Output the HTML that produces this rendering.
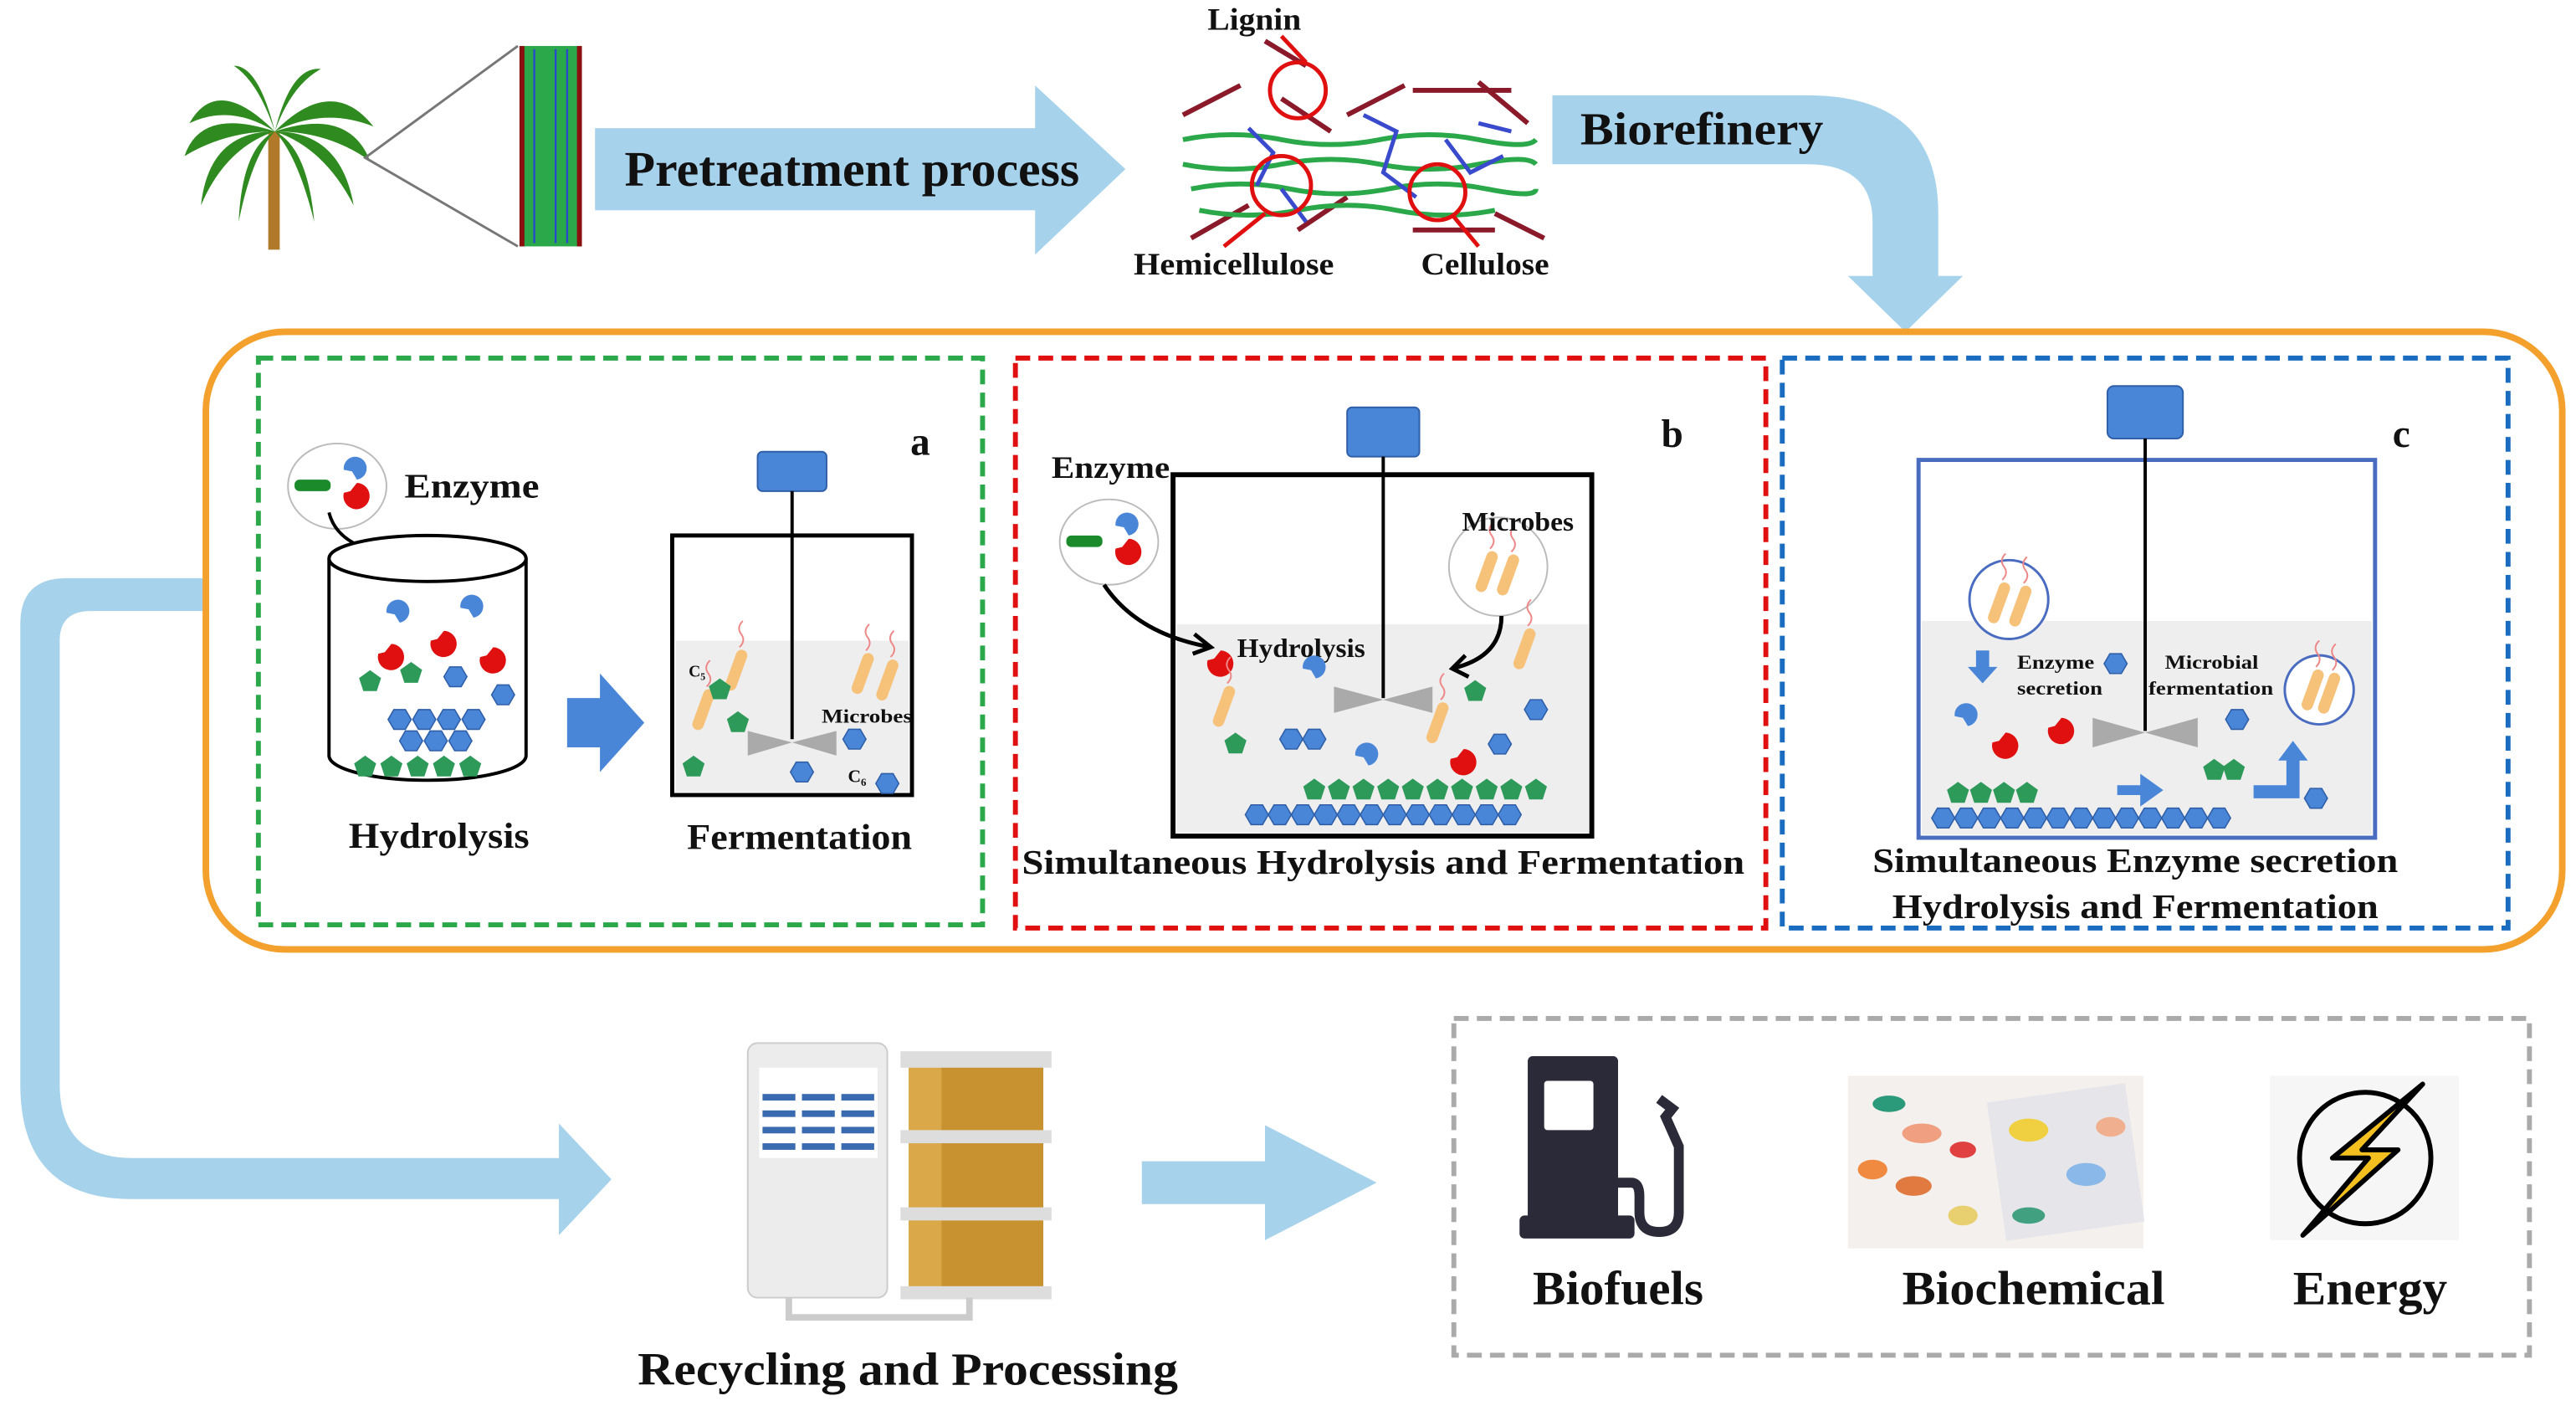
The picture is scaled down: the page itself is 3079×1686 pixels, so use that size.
<!DOCTYPE html>
<html><head><meta charset="utf-8"><style>
html,body{margin:0;padding:0;background:#fff;}
svg{display:block;}
text{font-family:"Liberation Serif",serif;font-weight:bold;fill:#111;}
</style></head><body>
<svg width="3079" height="1686" viewBox="0 0 1568 859" xmlns="http://www.w3.org/2000/svg">
<defs>
<polygon id="hx" points="7,0 3.5,6 -3.5,6 -7,0 -3.5,-6 3.5,-6" fill="#4a86d8" stroke="#2f5fa8" stroke-width="0.8"/>
<polygon id="pg" points="0,-7 6.7,-2.2 4.1,5.7 -4.1,5.7 -6.7,-2.2" fill="#2e9a5a"/>
<g id="mic"><rect x="-3.5" y="-13" width="7" height="26" rx="3.5" fill="#f6c27a" transform="rotate(20)"/><path d="M2,-14 q4,-4 1,-8 q-3,-4 1,-8" stroke="#e88" fill="none" stroke-width="1"/></g>
<path id="redE" d="M0,0 a8,8 0 1 0 8,-6 l-4,5 z" fill="#e01010"/>
<path id="bluE" d="M0,0 a7,7 0 1 1 8,6 l-3,-5 z" fill="#4a86d8"/>
<g id="enz"><ellipse cx="0" cy="0" rx="30" ry="26" fill="#fff" stroke="#bbb"/><rect x="-26" y="-4" width="22" height="7" rx="3" fill="#1a8a2a"/><use href="#bluE" x="4" y="-10"/><use href="#redE" x="4" y="4"/></g>
</defs>

<!-- palm tree -->
<rect x="163" y="80" width="7" height="72" fill="#b07a2a"/>
<g fill="#2f8a1f">
<path d="M167,80 q-35,-35 -52,-5 q25,-12 52,5z"/>
<path d="M167,80 q35,-35 60,-3 q-30,-12 -60,3z"/>
<path d="M167,80 q-10,-40 -25,-40 q15,10 25,40z"/>
<path d="M167,80 q10,-40 28,-38 q-18,10 -28,38z"/>
<path d="M167,80 q-40,0 -45,45 q15,-35 45,-45z"/>
<path d="M167,80 q40,0 48,45 q-18,-35 -48,-45z"/>
<path d="M167,80 q-20,10 -22,55 q8,-40 22,-55z"/>
<path d="M167,80 q20,10 24,55 q-10,-40 -24,-55z"/>
<path d="M167,80 q-45,-15 -55,15 q25,-15 55,-15z"/>
<path d="M167,80 q45,-15 58,18 q-25,-18 -58,-18z"/>
</g>
<path d="M315,28 L222,96 L315,150" fill="none" stroke="#777" stroke-width="1.5"/>
<rect x="316" y="28" width="38" height="122" fill="#2aa84a"/>
<rect x="316" y="28" width="3" height="122" fill="#8a1010"/><rect x="351" y="28" width="3" height="122" fill="#8a1010"/>
<path d="M325,30 v118 M338,30 v118 M345,30 v118" stroke="#2a4acc" stroke-width="1.2"/>

<!-- pretreatment arrow -->
<path d="M362,78 H630 V52 L685,103 L630,155 V128 H362 Z" fill="#a6d2ec"/>
<text x="380" y="113" font-size="30" textLength="277" lengthAdjust="spacingAndGlyphs">Pretreatment process</text>

<!-- lignocellulose -->
<g stroke-width="3" fill="none">
<path d="M720,70 l35,-18 M780,60 l30,20 M820,70 l35,-18 M860,55 l60,0 M900,50 l30,25 M725,145 l35,-20 M790,140 l30,-20 M860,140 l50,0 M910,130 l30,15 M770,25 l25,15" stroke="#8a1a2a"/>
<path d="M720,85 q30,-6 60,0 t60,0 t60,0 t35,0 M720,100 q30,6 60,0 t60,0 t60,0 t35,0 M725,115 q30,-6 60,0 t60,0 t60,0 t30,0 M730,128 q30,6 60,0 t60,0 t60,0" stroke="#2aa84a"/>
<path d="M760,78 l15,15 l-10,20 M830,70 l20,10 l-8,25 l20,15 M880,85 l15,20 l20,-10 M780,115 l15,20 M900,75 l20,5" stroke="#3a4acc" stroke-width="2.5"/>
</g>
<g fill="none" stroke="#e01010" stroke-width="2.5">
<circle cx="790" cy="55" r="17"/><circle cx="780" cy="113" r="18"/><circle cx="875" cy="117" r="17"/>
<path d="M795,38 L780,22 M770,130 L745,150 M885,132 L900,150"/>
</g>
<text x="735" y="18" font-size="19" textLength="57" lengthAdjust="spacingAndGlyphs">Lignin</text>
<text x="690" y="167" font-size="19" textLength="122" lengthAdjust="spacingAndGlyphs">Hemicellulose</text>
<text x="865" y="167" font-size="19" textLength="78" lengthAdjust="spacingAndGlyphs">Cellulose</text>

<!-- biorefinery arrow -->
<path d="M945,58 H1100 Q1180,58 1180,130 V168 H1195 L1160,202 L1125,168 H1140 V135 Q1140,100 1100,100 H945 Z" fill="#a6d2ec"/>
<text x="962" y="88" font-size="28" textLength="148" lengthAdjust="spacingAndGlyphs">Biorefinery</text>

<!-- left loop arrow -->
<path d="M125,352 H40 Q12,352 12,380 V660 Q12,730 80,730 H340 V752 L372,718 L340,684 V705 H80 Q36,705 36,660 V390 Q36,372 55,372 H125 Z" fill="#a6d2ec"/>

<!-- orange container -->
<rect x="125" y="202" width="1435" height="376" rx="48" fill="#fff" stroke="#f4a02c" stroke-width="4"/>
<rect x="157" y="218" width="441" height="345" fill="none" stroke="#2aa84a" stroke-width="3" stroke-dasharray="9,5"/>
<rect x="618" y="218" width="457" height="347" fill="none" stroke="#e01010" stroke-width="3" stroke-dasharray="9,5"/>
<rect x="1085" y="218" width="442" height="347" fill="none" stroke="#1a6cc0" stroke-width="3" stroke-dasharray="9,5"/>

<!-- panel a -->
<use href="#enz" x="205" y="296"/>
<text x="246" y="303" font-size="21" textLength="82" lengthAdjust="spacingAndGlyphs">Enzyme</text>
<path d="M200,312 q5,20 35,25" stroke="#000" stroke-width="2" fill="none"/><path d="M228,330 l8,7 l-10,3" stroke="#000" stroke-width="2" fill="none"/>
<path d="M200,340 V460 A60,15 0 0 0 320,460 V340" fill="#fff" stroke="#000" stroke-width="2"/>
<ellipse cx="260" cy="340" rx="60" ry="14" fill="#fff" stroke="#000" stroke-width="2"/>
<use href="#bluE" x="235" y="373"/><use href="#bluE" x="280" y="370"/><use href="#redE" x="230" y="398"/><use href="#redE" x="262" y="390"/><use href="#redE" x="292" y="400"/>
<use href="#pg" x="225" y="415"/><use href="#pg" x="250" y="410"/><use href="#hx" x="277" y="412"/><use href="#hx" x="306" y="423"/>
<g><use href="#hx" x="243" y="438"/><use href="#hx" x="258" y="438"/><use href="#hx" x="273" y="438"/><use href="#hx" x="288" y="438"/><use href="#hx" x="250" y="451"/><use href="#hx" x="265" y="451"/><use href="#hx" x="280" y="451"/></g>
<g><use href="#pg" x="222" y="467"/><use href="#pg" x="238" y="467"/><use href="#pg" x="254" y="467"/><use href="#pg" x="270" y="467"/><use href="#pg" x="286" y="467"/></g>
<text x="212" y="516" font-size="22" textLength="110" lengthAdjust="spacingAndGlyphs">Hydrolysis</text>
<path d="M345,425 H365 V410 L392,440 L365,470 V455 H345 Z" fill="#4a86d8"/>
<rect x="409" y="326" width="146" height="158" fill="#fff" stroke="#000" stroke-width="2.5"/>
<rect x="411" y="390" width="142" height="92" fill="#eeeeee"/>
<rect x="461" y="275" width="42" height="24" rx="3" fill="#4a86d8" stroke="#2f5fa8"/>
<line x1="482" y1="299" x2="482" y2="450" stroke="#000" stroke-width="2"/>
<path d="M455,445 L482,452 L455,460Z M509,445 L482,452 L509,460Z" fill="#aaa"/>
<use href="#mic" x="448" y="408"/><use href="#mic" x="428" y="432"/><use href="#mic" x="525" y="410"/><use href="#mic" x="540" y="414"/>
<use href="#pg" x="438" y="420"/><use href="#pg" x="449" y="440"/><use href="#pg" x="422" y="467"/><use href="#hx" x="520" y="450"/><use href="#hx" x="488" y="470"/><use href="#hx" x="540" y="477"/>
<text x="419" y="412" font-size="10">C₅</text><text x="500" y="440" font-size="12" textLength="55" lengthAdjust="spacingAndGlyphs">Microbes</text><text x="516" y="476" font-size="11">C₆</text>
<text x="554" y="277" font-size="24">a</text>
<text x="418" y="517" font-size="22" textLength="137" lengthAdjust="spacingAndGlyphs">Fermentation</text>

<!-- panel b -->
<rect x="714" y="289" width="255" height="220" fill="#fff" stroke="#000" stroke-width="3"/>
<rect x="716" y="380" width="251" height="127" fill="#eeeeee"/>
<rect x="820" y="248" width="44" height="30" rx="3" fill="#4a86d8" stroke="#2f5fa8"/>
<line x1="842" y1="278" x2="842" y2="425" stroke="#000" stroke-width="2"/>
<path d="M812,418 L842,426 L812,434Z M872,418 L842,426 L872,434Z" fill="#aaa"/>
<use href="#enz" x="675" y="330"/>
<text x="640" y="291" font-size="19" textLength="72" lengthAdjust="spacingAndGlyphs">Enzyme</text>
<path d="M672,356 q20,30 65,38" stroke="#000" stroke-width="2.5" fill="none"/><path d="M727,386 l10,8 l-11,4" stroke="#000" stroke-width="2.5" fill="none"/>
<circle cx="912" cy="345" r="30" fill="#fff" stroke="#bbb"/><use href="#mic" x="905" y="348"/><use href="#mic" x="918" y="350"/>
<text x="890" y="323" font-size="16" textLength="68" lengthAdjust="spacingAndGlyphs">Microbes</text>
<path d="M914,375 q0,25 -30,32" stroke="#000" stroke-width="2.5" fill="none"/><path d="M892,399 l-8,8 l10,5" stroke="#000" stroke-width="2.5" fill="none"/>
<text x="753" y="400" font-size="16" textLength="78" lengthAdjust="spacingAndGlyphs">Hydrolysis</text>
<use href="#redE" x="735" y="402"/><use href="#bluE" x="793" y="407"/><use href="#mic" x="745" y="430"/><use href="#mic" x="875" y="440"/><use href="#mic" x="928" y="395"/>
<use href="#pg" x="752" y="453"/><use href="#pg" x="898" y="421"/><use href="#hx" x="786" y="450"/><use href="#hx" x="800" y="450"/><use href="#hx" x="935" y="432"/><use href="#hx" x="913" y="453"/>
<use href="#bluE" x="825" y="460"/><use href="#redE" x="883" y="462"/>
<g><use href="#pg" x="800" y="481"/><use href="#pg" x="815" y="481"/><use href="#pg" x="830" y="481"/><use href="#pg" x="845" y="481"/><use href="#pg" x="860" y="481"/><use href="#pg" x="875" y="481"/><use href="#pg" x="890" y="481"/><use href="#pg" x="905" y="481"/><use href="#pg" x="920" y="481"/><use href="#pg" x="935" y="481"/></g>
<g><use href="#hx" x="765" y="496"/><use href="#hx" x="779" y="496"/><use href="#hx" x="793" y="496"/><use href="#hx" x="807" y="496"/><use href="#hx" x="821" y="496"/><use href="#hx" x="835" y="496"/><use href="#hx" x="849" y="496"/><use href="#hx" x="863" y="496"/><use href="#hx" x="877" y="496"/><use href="#hx" x="891" y="496"/><use href="#hx" x="905" y="496"/><use href="#hx" x="919" y="496"/></g>
<text x="1018" y="272" font-size="24" text-anchor="middle">b</text>
<text x="622" y="532" font-size="21" textLength="440" lengthAdjust="spacingAndGlyphs">Simultaneous Hydrolysis and Fermentation</text>

<!-- panel c -->
<rect x="1168" y="280" width="278" height="230" fill="#fff" stroke="#4a6cc0" stroke-width="2.5"/>
<rect x="1170" y="378" width="274" height="130" fill="#eeeeee"/>
<rect x="1283" y="235" width="46" height="32" rx="4" fill="#4a86d8" stroke="#2f5fa8"/>
<line x1="1306" y1="267" x2="1306" y2="445" stroke="#000" stroke-width="2"/>
<path d="M1274,437 L1306,446 L1274,455Z M1338,437 L1306,446 L1338,455Z" fill="#aaa"/>
<circle cx="1223" cy="365" r="24" fill="#fff" stroke="#4a6cc0" stroke-width="1.5"/><use href="#mic" x="1217" y="367"/><use href="#mic" x="1230" y="369"/>
<circle cx="1412" cy="420" r="21" fill="#fff" stroke="#4a6cc0" stroke-width="1.5"/><use href="#mic" x="1408" y="420"/><use href="#mic" x="1418" y="422"/>
<path d="M1203,396 h8 v10 h5 l-9,10 l-9,-10 h5z" fill="#4a86d8"/>
<text x="1228" y="407" font-size="12" textLength="47" lengthAdjust="spacingAndGlyphs">Enzyme</text><text x="1228" y="423" font-size="12" textLength="52" lengthAdjust="spacingAndGlyphs">secretion</text>
<text x="1318" y="407" font-size="12" textLength="57" lengthAdjust="spacingAndGlyphs">Microbial</text><text x="1308" y="423" font-size="12" textLength="76" lengthAdjust="spacingAndGlyphs">fermentation</text>
<use href="#hx" x="1288" y="404"/><use href="#hx" x="1362" y="438"/><use href="#hx" x="1410" y="486"/>
<use href="#bluE" x="1190" y="436"/><use href="#redE" x="1213" y="452"/><use href="#redE" x="1247" y="443"/>
<path d="M1289,478 h14 v-7 l14,10 l-14,10 v-7 h-14z" fill="#4a86d8"/>
<path d="M1372,478 h20 v-15 h-5 l9,-12 l9,12 h-5 v23 h-28z" fill="#4a86d8"/>
<use href="#pg" x="1348" y="469"/><use href="#pg" x="1360" y="469"/>
<g><use href="#pg" x="1192" y="483"/><use href="#pg" x="1206" y="483"/><use href="#pg" x="1220" y="483"/><use href="#pg" x="1234" y="483"/></g>
<g><use href="#hx" x="1183" y="498"/><use href="#hx" x="1197" y="498"/><use href="#hx" x="1211" y="498"/><use href="#hx" x="1225" y="498"/><use href="#hx" x="1239" y="498"/><use href="#hx" x="1253" y="498"/><use href="#hx" x="1267" y="498"/><use href="#hx" x="1281" y="498"/><use href="#hx" x="1295" y="498"/><use href="#hx" x="1309" y="498"/><use href="#hx" x="1323" y="498"/><use href="#hx" x="1337" y="498"/><use href="#hx" x="1351" y="498"/></g>
<text x="1462" y="272" font-size="24" text-anchor="middle">c</text>
<text x="1140" y="531" font-size="21" textLength="320" lengthAdjust="spacingAndGlyphs">Simultaneous Enzyme secretion</text>
<text x="1152" y="559" font-size="21" textLength="296" lengthAdjust="spacingAndGlyphs">Hydrolysis and Fermentation</text>

<!-- recycling building -->
<rect x="455" y="635" width="85" height="155" rx="6" fill="#ececec" stroke="#ccc"/>
<rect x="462" y="650" width="72" height="55" fill="#fff"/>
<g fill="#3a6ab0">
<rect x="464" y="666" width="20" height="4"/><rect x="488" y="666" width="20" height="4"/><rect x="512" y="666" width="20" height="4"/>
<rect x="464" y="676" width="20" height="4"/><rect x="488" y="676" width="20" height="4"/><rect x="512" y="676" width="20" height="4"/>
<rect x="464" y="686" width="20" height="4"/><rect x="488" y="686" width="20" height="4"/><rect x="512" y="686" width="20" height="4"/>
<rect x="464" y="696" width="20" height="4"/><rect x="488" y="696" width="20" height="4"/><rect x="512" y="696" width="20" height="4"/>
</g>
<rect x="553" y="642" width="82" height="145" fill="#c89230"/>
<rect x="553" y="642" width="20" height="145" fill="#e6b85a" opacity="0.6"/>
<rect x="548" y="640" width="92" height="10" fill="#ddd"/><rect x="548" y="688" width="92" height="8" fill="#ddd"/><rect x="548" y="735" width="92" height="8" fill="#ddd"/><rect x="548" y="783" width="92" height="8" fill="#ddd"/>
<path d="M480,790 v12 h110 v-12" fill="none" stroke="#ccc" stroke-width="4"/>
<text x="388" y="843" font-size="28" textLength="329" lengthAdjust="spacingAndGlyphs">Recycling and Processing</text>

<path d="M695,707 H770 V685 L838,720 L770,755 V733 H695 Z" fill="#a6d2ec"/>

<!-- products -->
<rect x="885" y="620" width="655" height="205" fill="none" stroke="#aaa" stroke-width="3" stroke-dasharray="9,5"/>
<rect x="930" y="643" width="55" height="110" rx="3" fill="#2a2a38"/>
<rect x="940" y="658" width="30" height="30" rx="2" fill="#fff"/>
<rect x="925" y="740" width="70" height="14" rx="3" fill="#2a2a38"/>
<path d="M985,720 h8 q5,0 5,8 v10 q0,12 12,12 q12,0 12,-12 v-40 l-8,-18 l4,-5 l-8,-6" fill="none" stroke="#2a2a38" stroke-width="6"/>
<rect x="1125" y="655" width="180" height="105" fill="#f4f0ee"/>
<rect x="1215" y="665" width="85" height="85" fill="#e6e6ea" transform="rotate(-8 1257 707)"/>
<g><ellipse cx="1150" cy="672" rx="10" ry="5" fill="#2a9a7a"/><ellipse cx="1170" cy="690" rx="12" ry="6" fill="#f0a080"/><ellipse cx="1195" cy="700" rx="8" ry="5" fill="#e04040"/><ellipse cx="1140" cy="712" rx="9" ry="6" fill="#f08a40"/><ellipse cx="1165" cy="722" rx="11" ry="6" fill="#e07a40"/><ellipse cx="1195" cy="740" rx="9" ry="6" fill="#e8d070"/><ellipse cx="1235" cy="688" rx="12" ry="7" fill="#f0d040"/><ellipse cx="1270" cy="715" rx="12" ry="7" fill="#8ab8e8"/><ellipse cx="1285" cy="686" rx="9" ry="6" fill="#f0b090"/><ellipse cx="1235" cy="740" rx="10" ry="5" fill="#40a080"/></g>
<rect x="1382" y="655" width="115" height="100" fill="#f6f6f6"/>
<circle cx="1440" cy="705" r="40" fill="none" stroke="#000" stroke-width="3"/>
<path d="M1475,660 L1420,705 L1442,705 L1402,752 L1460,700 L1438,700 Z" fill="#f3c020" stroke="#000" stroke-width="3" stroke-linejoin="round"/>
<text x="933" y="794" font-size="29" textLength="104" lengthAdjust="spacingAndGlyphs">Biofuels</text>
<text x="1158" y="794" font-size="29" textLength="160" lengthAdjust="spacingAndGlyphs">Biochemical</text>
<text x="1396" y="794" font-size="29" textLength="94" lengthAdjust="spacingAndGlyphs">Energy</text>
</svg>
</body></html>
